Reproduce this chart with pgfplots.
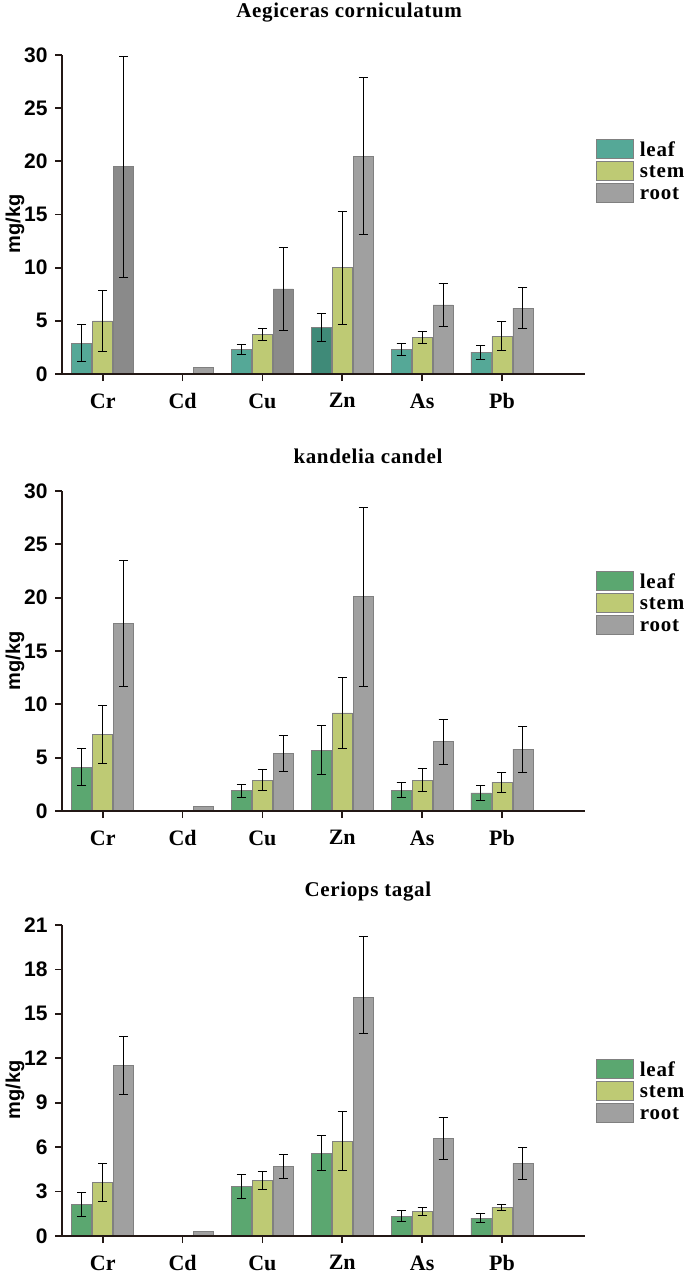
\documentclass[border=0pt]{standalone}
\usepackage{pgfplots}
\pgfplotsset{compat=1.18}
\usepackage{fontspec}
\setmainfont{Liberation Serif}
\newfontfamily\sansf{Liberation Sans}
\newfontfamily\titf{Liberation Serif}[LetterSpace=3]
\newfontfamily\legf{Liberation Serif}[LetterSpace=4]
\newcommand\tickfont{\sansf\bfseries\fontsize{21}{21}\selectfont}
\newcommand\labfont{\sansf\bfseries\fontsize{20}{20}\selectfont}
\newcommand\catfont{\rmfamily\bfseries\fontsize{22}{22}\selectfont}
\newcommand\titfont{\titf\bfseries\fontsize{21}{21}\selectfont}
\newcommand\legfont{\legf\bfseries\fontsize{21}{21}\selectfont}
\definecolor{axiscol}{HTML}{231815}
\definecolor{leafA}{HTML}{55A897}
\definecolor{leafAdark}{HTML}{3F8A78}
\definecolor{leafB}{HTML}{5BA770}
\definecolor{stemc}{HTML}{BECA74}
\definecolor{rootc}{HTML}{A0A0A0}
\definecolor{rootdark}{HTML}{8A8A8A}
\pgfplotsset{
  /pgfplots/error bars/draw error bar/.code 2 args={%
    \draw[line width=1pt, black] #1 -- #2;
    \draw[line width=1pt, black] #2 ++(-4.5pt,0pt) -- ++(9pt,0pt);
  },
  panel/.style={
    scale only axis, width=523pt,
    xmin=-0.51, xmax=6.04, ymin=0,
    axis x line*=bottom, axis y line*=left,
    axis line style={line width=1.8pt, color=axiscol, -},
    axis on top,
    xtick={0,1,2,3,4,5}, xticklabels={Cr,Cd,Cu,Zn,As,Pb},
    tick style={line width=1.8pt, color=axiscol},
    tick align=outside, major tick length=7pt,
    /pgf/number format/assume math mode=true,
    yticklabel style={font=\tickfont, xshift=-4pt},
    xticklabel style={font=\catfont, yshift=-9pt},
    ylabel={mg/kg},
    ylabel style={font=\labfont, at={(axis description cs:-0.0899,0.47)}, anchor=center},
    title style={font=\titfont, anchor=base},
    legend style={anchor=north west, draw=none, fill=none, inner sep=0pt,
      row sep=2.5pt, font=\legfont, legend cell align=left,
      nodes={inner sep=0pt},
      /tikz/every odd column/.append style={column sep=6pt}},
  },
  bars0/.style={ybar, bar width=20pt, bar shift=0pt, draw=black!50, line width=0.6pt, forget plot},
  bars/.style={bars0,
    error bars/y dir=both, error bars/y explicit},
}
\newcommand\legbox[1]{\addlegendimage{legend image code/.code={\draw[fill=#1,draw=black!50,line width=0.6pt] (0pt,-8.5pt) rectangle (37pt,10.5pt);}}}
\begin{document}
\begin{tikzpicture}
\useasboundingbox (0pt,0pt) rectangle (685pt,-1278pt);
% ---------- Panel 1 ----------
\begin{axis}[panel, at={(62pt,-374pt)}, anchor=south west, height=319pt,
  ymax=30, ytick={0,5,10,15,20,25,30},
  title={Aegiceras corniculatum},
  title style={at={(axis description cs:0.549,1)}, yshift=32pt},
  legend style={at={(axis description cs:1.021,0.737)}}]
\addplot[bars, fill=leafA] coordinates {(-0.263,2.9) +- (0,1.75) (1.737,2.3) +- (0,0.5) (3.737,2.3) +- (0,0.6) (4.737,2.05) +- (0,0.65)};
\addplot[bars, fill=leafAdark] coordinates {(2.737,4.4) +- (0,1.3)};
\addplot[bars, fill=stemc] coordinates {(0,5.0) +- (0,2.85) (2,3.7) +- (0,0.55) (3,10.0) +- (0,5.3) (4,3.45) +- (0,0.55) (5,3.55) +- (0,1.35)};
\addplot[bars, fill=rootdark] coordinates {(0.263,19.5) +- (0,10.4) (2.263,8.0) +- (0,3.9)};
\addplot[bars, fill=rootc] coordinates {(3.263,20.5) +- (0,7.4) (4.263,6.5) +- (0,2.0) (5.263,6.2) +- (0,1.95)};
\addplot[bars0, fill=rootc] coordinates {(1.263,0.65)};
\legbox{leafA}\addlegendentry{leaf}
\legbox{stemc}\addlegendentry{stem}
\legbox{rootc}\addlegendentry{root}
\end{axis}
% ---------- Panel 2 ----------
\begin{axis}[panel, at={(62pt,-811pt)}, anchor=south west, height=320pt,
  ymax=30, ytick={0,5,10,15,20,25,30},
  title={kandelia candel},
  title style={at={(axis description cs:0.585,1)}, yshift=22pt},
  legend style={at={(axis description cs:1.021,0.75)}}]
\addplot[bars, fill=leafB] coordinates {(-0.263,4.1) +- (0,1.75) (1.737,1.9) +- (0,0.6) (2.737,5.7) +- (0,2.3) (3.737,1.95) +- (0,0.7) (4.737,1.7) +- (0,0.7)};
\addplot[bars, fill=stemc] coordinates {(0,7.2) +- (0,2.7) (2,2.9) +- (0,1.0) (3,9.2) +- (0,3.3) (4,2.9) +- (0,1.1) (5,2.7) +- (0,0.95)};
\addplot[bars, fill=rootc] coordinates {(0.263,17.6) +- (0,5.9) (2.263,5.4) +- (0,1.65) (3.263,20.1) +- (0,8.4) (4.263,6.5) +- (0,2.1) (5.263,5.8) +- (0,2.15)};
\addplot[bars0, fill=rootc] coordinates {(1.263,0.4)};
\legbox{leafB}\addlegendentry{leaf}
\legbox{stemc}\addlegendentry{stem}
\legbox{rootc}\addlegendentry{root}
\end{axis}
% ---------- Panel 3 ----------
\begin{axis}[panel, at={(62pt,-1236pt)}, anchor=south west, height=311pt,
  ymax=21, ytick={0,3,6,9,12,15,18,21},
  title={Ceriops tagal},
  title style={at={(axis description cs:0.585,1)}, yshift=23pt},
  legend style={at={(axis description cs:1.021,0.57)}}]
\addplot[bars, fill=leafB] coordinates {(-0.263,2.15) +- (0,0.8) (1.737,3.35) +- (0,0.8) (2.737,5.6) +- (0,1.2) (3.737,1.35) +- (0,0.4) (4.737,1.2) +- (0,0.3)};
\addplot[bars, fill=stemc] coordinates {(0,3.6) +- (0,1.3) (2,3.75) +- (0,0.6) (3,6.4) +- (0,2.0) (4,1.65) +- (0,0.25) (5,1.95) +- (0,0.2)};
\addplot[bars, fill=rootc] coordinates {(0.263,11.5) +- (0,1.95) (2.263,4.7) +- (0,0.8) (3.263,16.1) += (0,4.1) -= (0,2.4) (4.263,6.6) +- (0,1.4) (5.263,4.9) +- (0,1.1)};
\addplot[bars0, fill=rootc] coordinates {(1.263,0.3)};
\legbox{leafB}\addlegendentry{leaf}
\legbox{stemc}\addlegendentry{stem}
\legbox{rootc}\addlegendentry{root}
\end{axis}
\end{tikzpicture}
\end{document}
